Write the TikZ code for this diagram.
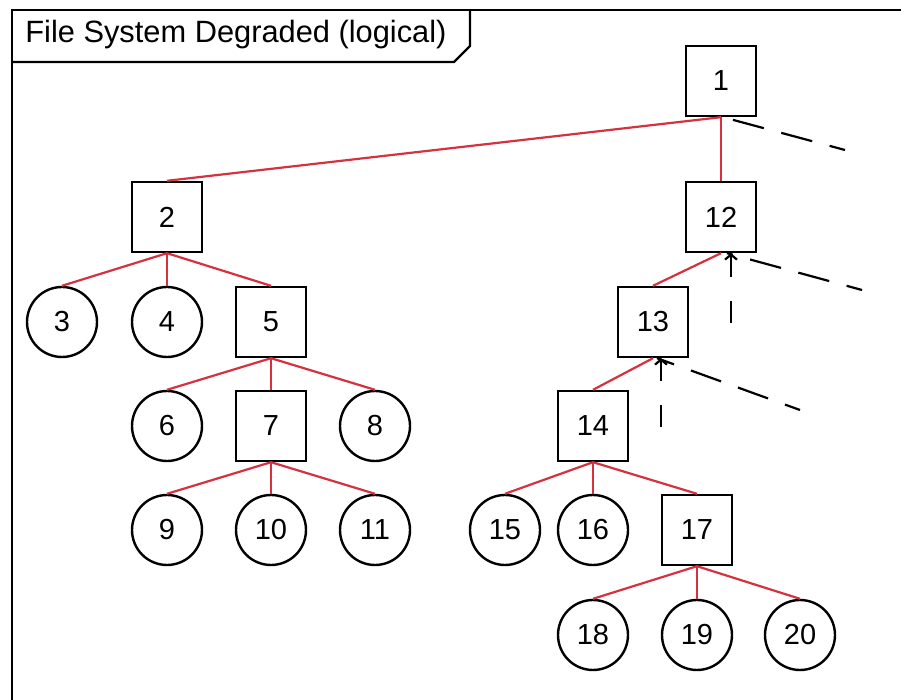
\documentclass[tikz,border=0pt]{standalone}
\usepackage{fontspec}
\setmainfont{Liberation Sans}
\usetikzlibrary{arrows.meta}
\definecolor{linkred}{RGB}{212,50,62}

\begin{document}
\begin{tikzpicture}[
  x=0.5pt, y=-0.5pt,
  dirbox/.style  = {draw, line width=1.2pt, minimum size=35pt, inner sep=0pt,
                    font=\fontsize{14.5}{17}\selectfont, fill=white},
  filenode/.style = {draw, circle, line width=1.2pt, minimum size=35pt,
                    inner sep=0pt, font=\fontsize{14.5}{17}\selectfont,
                    fill=white},
  link/.style    = {linkred, line width=1.1pt},
  elided/.style  = {line width=1.1pt, dash pattern=on 16pt off 9pt,
                    dash phase=8pt},
  backref/.style = {line width=1.1pt, dash pattern=on 11pt off 12pt,
                    -{Straight Barb[length=2.5pt,width=6pt]}},
]
\useasboundingbox (0,0) rectangle (901,700);

% frame with its name tab
\draw[line width=1.1pt] (12,700) -- (12,10) -- (901,10);
\node[anchor=west, inner sep=0pt, font=\fontsize{15.4}{18}\selectfont]
  (title) at (25,35) {File System Degraded (logical)};
\draw[line width=1.1pt] (12,62) -- (454,62) -- (470,46) -- (470,10);

% directories
\node[dirbox] (n1)  at (721, 81)  {1};
\node[dirbox] (n2)  at (167,217)  {2};
\node[dirbox] (n12) at (721,217)  {12};
\node[dirbox] (n5)  at (271,322)  {5};
\node[dirbox] (n13) at (653,322)  {13};
\node[dirbox] (n7)  at (271,426)  {7};
\node[dirbox] (n14) at (593,426)  {14};
\node[dirbox] (n17) at (697,530)  {17};

% files
\node[filenode] (n3)  at ( 62,322) {3};
\node[filenode] (n4)  at (167,322) {4};
\node[filenode] (n6)  at (167,426) {6};
\node[filenode] (n8)  at (375,426) {8};
\node[filenode] (n9)  at (167,530) {9};
\node[filenode] (n10) at (271,530) {10};
\node[filenode] (n11) at (375,530) {11};
\node[filenode] (n15) at (505,530) {15};
\node[filenode] (n16) at (593,530) {16};
\node[filenode] (n18) at (593,635) {18};
\node[filenode] (n19) at (697,635) {19};
\node[filenode] (n20) at (800,635) {20};

% parent -> child links
\draw[link] (n1.south)  -- (n2.north);
\draw[link] (n1.south)  -- (n12.north);
\draw[link] (n2.south)  -- (n3.north);
\draw[link] (n2.south)  -- (n4.north);
\draw[link] (n2.south)  -- (n5.north);
\draw[link] (n5.south)  -- (n6.north);
\draw[link] (n5.south)  -- (n7.north);
\draw[link] (n5.south)  -- (n8.north);
\draw[link] (n7.south)  -- (n9.north);
\draw[link] (n7.south)  -- (n10.north);
\draw[link] (n7.south)  -- (n11.north);
\draw[link] (n12.south) -- (n13.north);
\draw[link] (n13.south) -- (n14.north);
\draw[link] (n14.south) -- (n15.north);
\draw[link] (n14.south) -- (n16.north);
\draw[link] (n14.south) -- (n17.north);
\draw[link] (n17.south) -- (n18.north);
\draw[link] (n17.south) -- (n19.north);
\draw[link] (n17.south) -- (n20.north);

% lost entries: dashed stubs off the right side
\coordinate (lost1)  at (845,150);
\coordinate (lost12) at (862,290);
\coordinate (lost13) at (800,410);
\draw[elided] (lost1)  -- ([xshift=1pt]n1.south);
\draw[elided] (lost12) -- ([xshift=3pt]n12.south);
\draw[elided] (lost13) -- ([xshift=2pt]n13.south);

% back references to the parent
\coordinate (up12) at (731,323);
\coordinate (up13) at (661,427);
\draw[backref] (up12) -- (up12 |- n12.south);
\draw[backref] (up13) -- (up13 |- n13.south);

\end{tikzpicture}
\end{document}
